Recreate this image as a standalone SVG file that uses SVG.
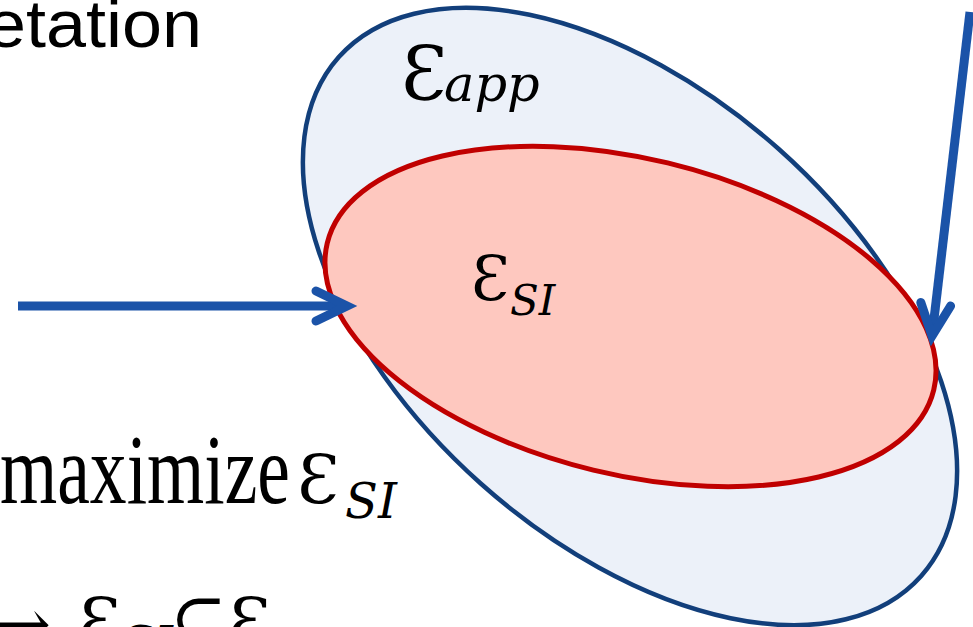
<svg xmlns="http://www.w3.org/2000/svg" width="973" height="627" viewBox="0 0 973 627">
<style>
.sans{font-family:"Liberation Sans",Arial,sans-serif;fill:#000}
.serif{font-family:"Liberation Serif","DejaVu Serif",serif;fill:#000}
.math{font-family:"DejaVu Serif",serif;fill:#000}
.sub{font-family:"DejaVu Serif",serif;font-style:italic;fill:#000}
.arr{fill:none;stroke:#1b53a8;stroke-width:9}
</style>
<rect width="973" height="627" fill="#ffffff"/>
<g id="text-top">
<text class="sans" x="-14" y="47" font-size="66" textLength="216" lengthAdjust="spacingAndGlyphs">etation</text>
</g>
<g id="ellipse-app">
<ellipse cx="630" cy="316.5" rx="390" ry="224" transform="rotate(41.7 630 316.5)" fill="#ecf1f9" stroke="#123f7b" stroke-width="4.5"/>
<text class="math" x="401" y="100" font-size="74">Ɛ</text>
<text class="sub" x="444" y="101" font-size="51">app</text>
</g>
<g id="ellipse-si">
<ellipse cx="630.5" cy="316.5" rx="312" ry="158" transform="rotate(13.6 630.5 316.5)" fill="#fec8bf" stroke="#c00000" stroke-width="5"/>
<text class="math" x="471" y="300" font-size="62">Ɛ</text>
<text class="sub" x="510" y="315" font-size="42">SI</text>
</g>
<g id="text-bottom">
<text class="serif" x="0" y="503" font-size="100" textLength="290" lengthAdjust="spacingAndGlyphs">maximize</text>
<text class="math" x="297" y="503" font-size="68">Ɛ</text>
<text class="sub" x="345" y="518" font-size="48">SI</text>
<text class="math" x="-6" y="647" font-size="68">→</text>
<text class="math" x="78" y="646" font-size="68">Ɛ</text>
<text class="sub" x="121" y="661" font-size="48">SI</text>
<text class="math" x="170" y="646" font-size="68">⊆</text>
<text class="math" x="228" y="646" font-size="68">Ɛ</text>
</g>
<g id="connectors">
<line class="arr" x1="18" y1="306" x2="343" y2="306" stroke-linecap="butt"/>
<polyline class="arr" points="316,291 347,306 316,321" stroke-linecap="round" stroke-linejoin="miter"/>
<line class="arr" x1="970" y1="12" x2="932.5" y2="332" stroke-linecap="butt"/>
<polyline class="arr" points="920.8,302.5 932,336 950.6,306" stroke-linecap="round" stroke-linejoin="miter"/>
</g>
</svg>
